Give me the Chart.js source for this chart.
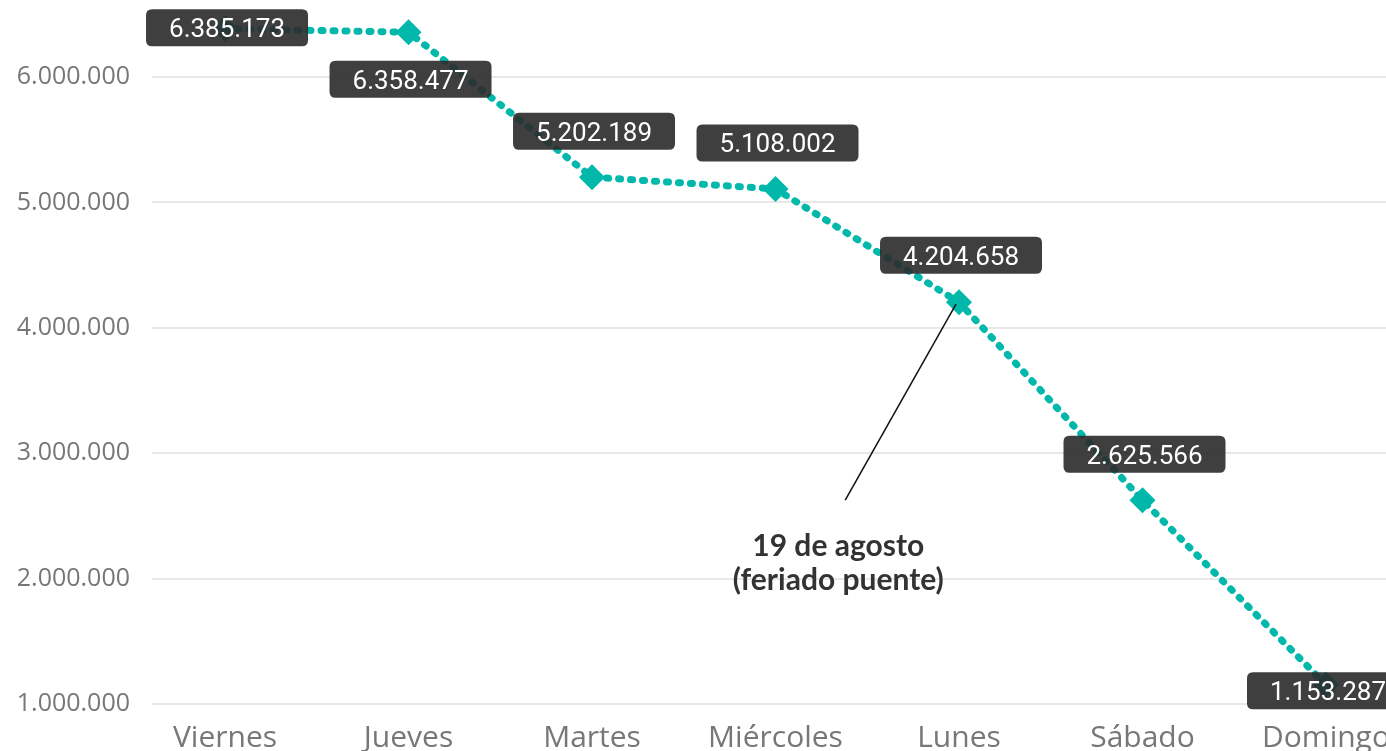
<!DOCTYPE html>
<html>
<head>
<meta charset="utf-8">
<script src="https://cdn.jsdelivr.net/npm/chart.js@4.4.1/dist/chart.umd.min.js"></script>
<style>
  html, body { margin: 0; padding: 0; background: #fff; overflow: hidden; }
  #wrap { width: 1386px; height: 751px; position: relative; }
</style>
</head>
<body>
<div id="wrap"><canvas id="chart"></canvas></div>
<script>
// Days, ordered by traffic
const days = ["Viernes", "Jueves", "Martes", "Miércoles", "Lunes", "Sábado", "Domingo"];
const totals = [6385173, 6358477, 5202189, 5108002, 4204658, 2625566, 1153287];
const yTicks = [1000000, 2000000, 3000000, 4000000, 5000000, 6000000];

// Note pointing to Monday
const noteLines = ["19 de agosto", "(feriado puente)"];
const noteIndex = 4;

const TEAL = '#01b8aa';

function fmt(n){
  return String(Math.round(n)).replace(/\B(?=(\d{3})+(?!\d))/g, '.');
}

function roundRect(ctx, x, y, w, h, r){
  ctx.beginPath();
  ctx.moveTo(x + r, y);
  ctx.lineTo(x + w - r, y);
  ctx.quadraticCurveTo(x + w, y, x + w, y + r);
  ctx.lineTo(x + w, y + h - r);
  ctx.quadraticCurveTo(x + w, y + h, x + w - r, y + h);
  ctx.lineTo(x + r, y + h);
  ctx.quadraticCurveTo(x, y + h, x, y + h - r);
  ctx.lineTo(x, y + r);
  ctx.quadraticCurveTo(x, y, x + r, y);
  ctx.closePath();
}

// annotation line + text
const notePlugin = {
  id: 'note',
  afterDatasetsDraw(chart, args, opts){
    const ctx = chart.ctx;
    const pt = chart.getDatasetMeta(0).data[noteIndex];
    const xs = chart.scales.x, ys = chart.scales.y;
    const ex = xs.getPixelForValue(opts.at[0]);
    const ey = ys.getPixelForValue(opts.at[1]);
    ctx.save();
    ctx.strokeStyle = '#111';
    ctx.lineWidth = 1.5;
    ctx.beginPath();
    ctx.moveTo(pt.x - 3, pt.y + 2);
    ctx.lineTo(ex, ey);
    ctx.stroke();
    ctx.fillStyle = '#333';
    ctx.font = 'bold 30px Lato, "Open Sans", sans-serif';
    ctx.textAlign = 'center';
    ctx.textBaseline = 'middle';
    noteLines.forEach((t, i) => ctx.fillText(t, ex - 7, ey + 46 + i * 34));
    ctx.restore();
  }
};

// dark value boxes
const valueLabels = {
  id: 'valueLabels',
  afterDatasetsDraw(chart, args, opts){
    const ctx = chart.ctx;
    const pts = chart.getDatasetMeta(0).data;
    ctx.save();
    ctx.font = '26px Roboto, sans-serif';
    ctx.textAlign = 'center';
    ctx.textBaseline = 'middle';
    pts.forEach((p, i) => {
      const txt = fmt(totals[i]);
      const w = ctx.measureText(txt).width + 46;
      const h = 37;
      const cx = p.x + 2;
      const cy = p.y + opts.offsets[i];
      ctx.fillStyle = 'rgba(42,42,42,0.9)';
      roundRect(ctx, cx - w / 2, cy - h / 2, w, h, 6);
      ctx.fill();
      ctx.fillStyle = '#fff';
      ctx.fillText(txt, cx, cy + 3);
    });
    ctx.restore();
  }
};

new Chart(document.getElementById('chart'), {
  type: 'line',
  data: {
    datasets: [{
      data: totals.map((v, i) => ({ x: i, y: v })),
      borderColor: TEAL,
      backgroundColor: TEAL,
      borderWidth: 7,
      borderDash: [2, 10],
      borderCapStyle: 'round',
      pointStyle: 'rectRot',
      pointRadius: 13,
      pointHoverRadius: 13,
      pointBackgroundColor: TEAL,
      pointBorderWidth: 0,
      tension: 0,
      clip: false
    }]
  },
  options: {
    responsive: true,
    maintainAspectRatio: false,
    animation: false,
    events: [],
    layout: { padding: 0, autoPadding: false },
    plugins: {
      legend: { display: false },
      tooltip: { enabled: false },
      valueLabels: { offsets: [-1, 47, -46, -46, -47, -46, 6] },
      note: { at: [3.38, 2627000] }
    },
    scales: {
      x: {
        type: 'linear',
        min: -0.398,
        max: 6.327,
        afterBuildTicks(s){ s.ticks = days.map((d, i) => ({ value: i })); },
        grid: { display: false },
        border: { display: false },
        ticks: {
          autoSkip: false,
          maxRotation: 0,
          padding: 8,
          color: '#777',
          font: { family: '"Segoe UI", "Open Sans", sans-serif', size: 30 },
          callback: v => days[v] !== undefined ? days[v] : ''
        },
        afterFit(s){ s.height = 47; s.paddingLeft = 0; s.paddingRight = 0; }
      },
      y: {
        min: 1000000,
        max: 6615000,
        afterBuildTicks(s){ s.ticks = yTicks.map(v => ({ value: v })); },
        grid: { color: '#e8e8e8', lineWidth: 2, drawTicks: false },
        border: { display: false },
        ticks: {
          padding: 22,
          color: '#777',
          font: { family: '"Segoe UI", "Open Sans", sans-serif', size: 25 },
          callback: v => fmt(v)
        },
        afterFit(s){ s.width = 152; s.paddingTop = 0; s.paddingBottom = 0; }
      }
    }
  },
  plugins: [notePlugin, valueLabels]
});
</script>
</body>
</html>
